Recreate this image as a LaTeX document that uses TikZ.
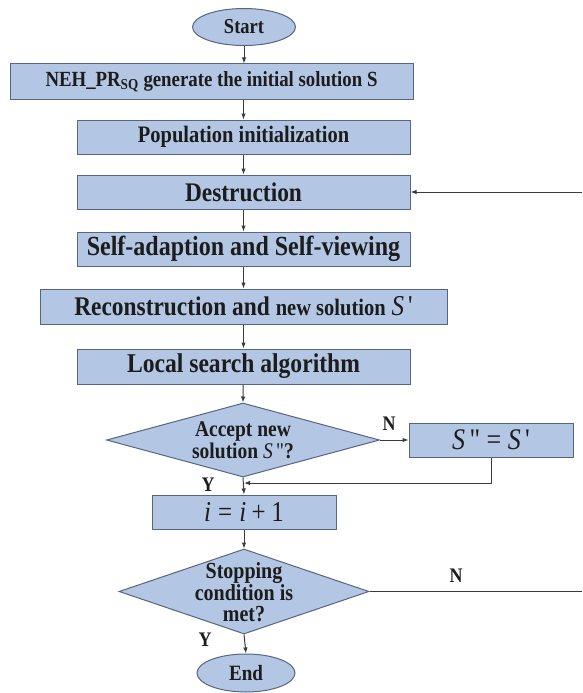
\documentclass[tikz,border=0pt]{standalone}
\usepackage{graphicx}
\usepackage{fontspec}
\setmainfont{Liberation Serif}
\usetikzlibrary{shapes.geometric,arrows.meta}
\definecolor{boxfill}{RGB}{179,198,228}
\definecolor{boxline}{RGB}{86,102,130}
\definecolor{ink}{RGB}{28,28,28}
\definecolor{wire}{RGB}{60,60,60}
\newcommand{\fs}[1]{\fontsize{#1}{#1}\selectfont}
\newcommand{\tx}[1]{\scalebox{1}[1.15]{#1}}
\begin{document}
\begin{tikzpicture}[x=1pt,y=-1pt,
  box/.style={draw=boxline, fill=boxfill, line width=1pt, inner sep=0pt, text=ink, font=\bfseries},
  ell/.style={box, ellipse},
  dia/.style={box, diamond},
  lbl/.style={text=ink, font=\bfseries\fs{18}, inner sep=0pt},
  arr/.style={draw=wire, line width=1pt, -{Latex[length=6pt,width=4.5pt]}},
  ln/.style={draw=wire, line width=1pt}]
\useasboundingbox (0,0) rectangle (582,693);
\fill[white] (0,0) rectangle (582,693);

\node[ell, minimum width=103pt, minimum height=37pt] (start) at (244,27) {\tx{\fs{18.5}Start}};
\node[box, minimum width=403pt, minimum height=35pt] (neh) at (211.5,81.5)
  {\tx{\fs{18.8}NEH\_PR\textsubscript{SQ} generate the initial solution S}};
\node[box, minimum width=333pt, minimum height=34pt] (pop) at (243.5,137) {\tx{\fs{20.5}Population initialization}};
\node[box, minimum width=333pt, minimum height=34pt] (des) at (243.5,192) {\tx{\fs{23.4}Destruction}};
\node[box, minimum width=333pt, minimum height=34pt] (self) at (243.5,249) {\tx{\fs{24}Self-adaption and Self-viewing}};
\node[box, minimum width=407pt, minimum height=35pt] (rec) at (243.5,306.5)
  {\tx{\fs{23.4}Reconstruction and {\fs{20.5}new solution} {\fs{25}\mdseries\itshape S\upshape\,\textquotesingle}}};
\node[box, minimum width=333pt, minimum height=35pt] (loc) at (243.5,366.5) {\tx{\fs{23.6}Local search algorithm}};

\node[dia, minimum width=273pt, minimum height=74pt] (acc) at (243,440) {};
\node[text=ink, font=\bfseries, inner sep=0pt] (acct) at (243,443)
  {\tx{\fontsize{19.5}{19}\selectfont\begin{tabular}{@{}c@{}}Accept new\\solution {\mdseries\itshape S\upshape\,\textquotedbl}?\end{tabular}}};
\node[box, font=\mdseries, minimum width=164pt, minimum height=34pt] (sss) at (491,440)
  {\tx{\fs{26}\itshape S\upshape\,\textquotedbl\ = \itshape S\upshape\,\textquotesingle}};
\node[box, font=\mdseries, minimum width=184pt, minimum height=34pt] (inc) at (244,512)
  {\tx{\fs{25}\itshape i\upshape\hspace{0.28em}=\hspace{0.28em}\itshape i\upshape\hspace{0.22em}+\hspace{0.22em}1}};

\node[dia, minimum width=250pt, minimum height=85pt] (stop) at (244,591.5) {};
\node[text=ink, font=\bfseries, inner sep=0pt] (stopt) at (244,595)
  {\tx{\fontsize{20}{17.8}\selectfont\begin{tabular}{@{}c@{}}Stopping\\condition is\\met?\end{tabular}}};
\node[ell, minimum width=98pt, minimum height=38pt] (end) at (246,673) {\tx{\fs{19}End}};

\node[lbl] (n1) at (389,424) {\tx{N}};
\node[lbl] (y1) at (208,485) {\tx{Y}};
\node[lbl] (n2) at (456,576) {\tx{N}};
\node[lbl] (y2) at (205,640) {\tx{Y}};

\coordinate (edge) at (582,0);
\coordinate (m) at (244,483);

\draw[arr] (start.south) -- (start.south |- neh.north);
\draw[arr] (neh.south -| pop.north) -- (pop.north);
\draw[arr] (pop) -- (des);
\draw[arr] (des) -- (self);
\draw[arr] (self) -- (rec);
\draw[arr] (rec) -- (loc);
\draw[arr] (loc) -- (acc.north);
\draw[arr] (acc.east) -- (sss.west);
\draw[arr] (acc.south) -- (inc.north);
\draw[arr] (sss.south) |- (m);
\draw[arr] (inc.south) -- (stop.north);
\draw[arr] (stop.south) -- (end.north);
\draw[ln] (stop.east) -- (stop.east -| edge);
\draw[arr] (des.east -| edge) -- (des.east);
\end{tikzpicture}
\end{document}
